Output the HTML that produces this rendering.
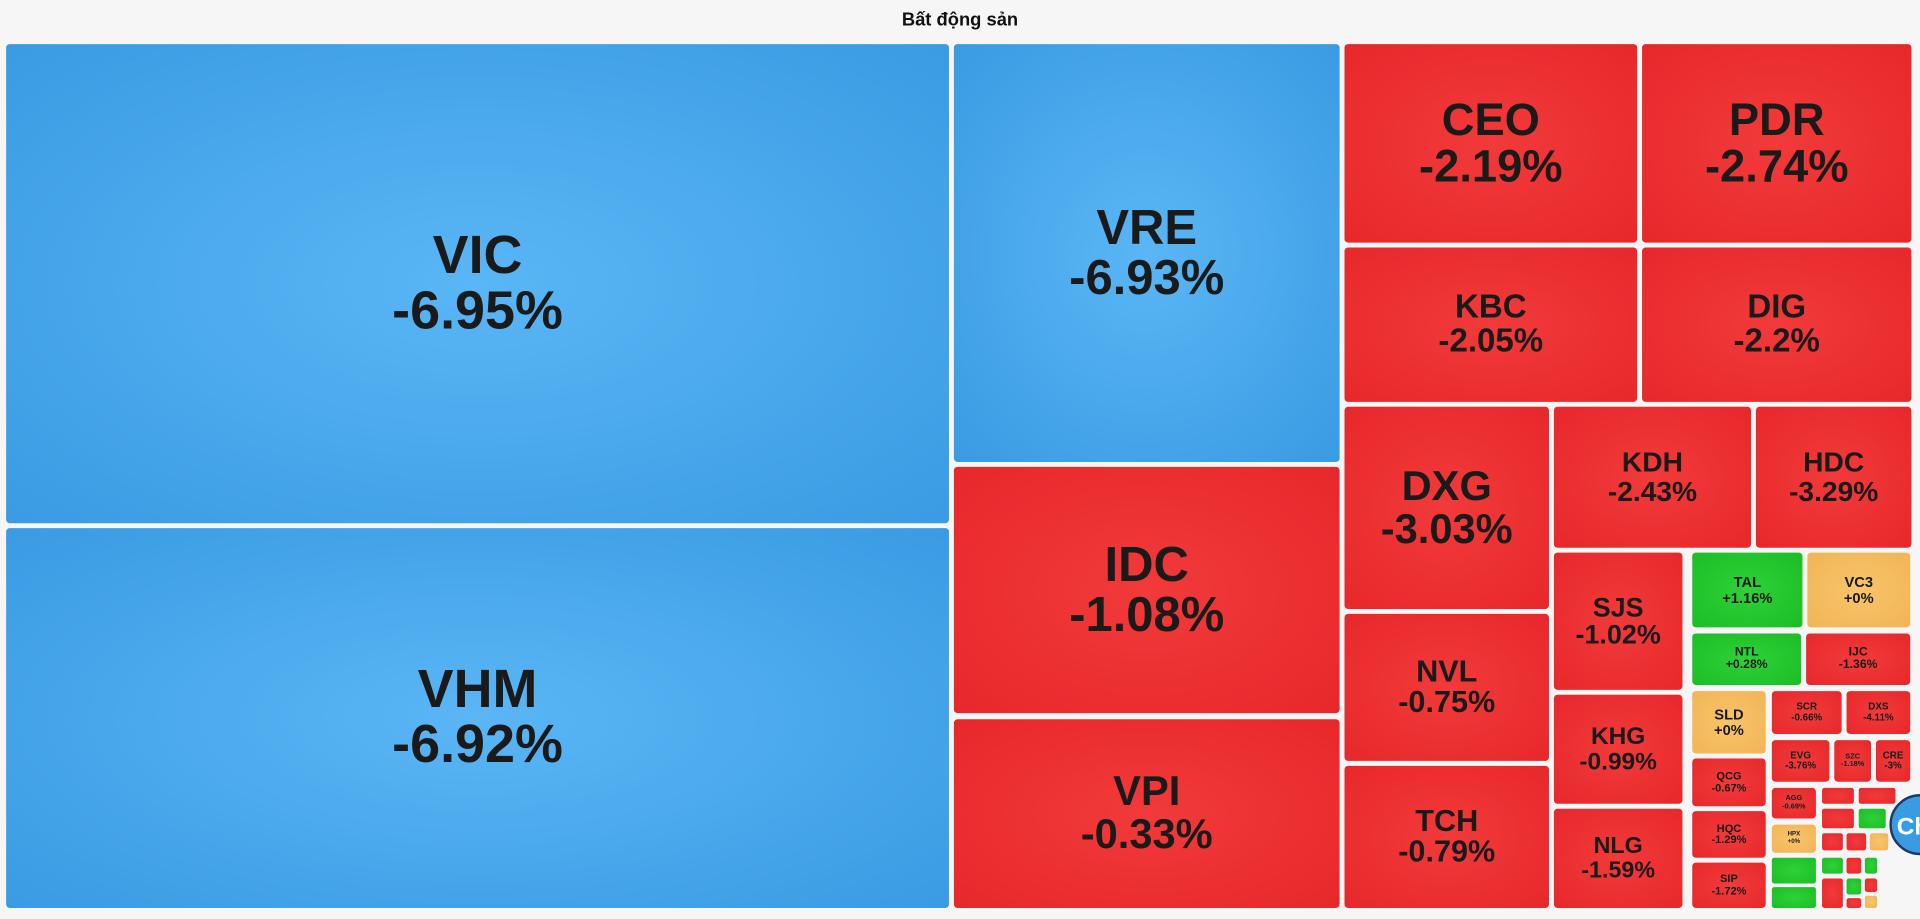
<!DOCTYPE html>
<html><head><meta charset="utf-8">
<style>
html,body{margin:0;padding:0;background:#fff;width:1920px;height:919px;overflow:hidden}
#wrap{position:absolute;left:0;top:0;width:1568px;height:750px;transform:scale(1.22449,1.2253);transform-origin:0 0;background:#f6f6f6}
#title{position:absolute;left:0;top:8px;width:1568px;text-align:center;font:bold 15px "Liberation Sans","Noto Sans CJK SC",sans-serif;color:#111}
.t{position:absolute;border-radius:3px;display:flex;flex-direction:column;align-items:center;justify-content:center;font-family:"Liberation Sans",sans-serif;font-weight:bold;color:#1a1a1a;line-height:1.02;text-align:center;overflow:hidden;box-sizing:border-box}
.neg{background:radial-gradient(ellipse at center,#f23a3a 0%,#e7282b 100%)}
.pos{background:radial-gradient(ellipse at center,#2ed237 0%,#1cbc26 100%)}
.zero{background:radial-gradient(ellipse at center,#f8c46a 0%,#f2b456 100%)}
.big{background:radial-gradient(ellipse at center,#5ab6f5 0%,#3a9be3 100%)}
#bot{position:absolute;left:1543px;top:648px;width:50px;height:50px;border-radius:50%;background:#3a9be3;border:2px solid #1d3a66;color:#fff;font:bold 20px "Liberation Sans",sans-serif;line-height:50px;padding-left:4px;box-sizing:border-box}
</style></head><body>
<div id="wrap">
<div id="title">Bất động sản</div>
<div id="tiles"></div>
<div id="bot">Ch</div>
</div>
<script>
const tickers=["VIC","VHM","VRE","IDC","VPI","CEO","PDR","KBC","DIG","DXG","KDH","HDC","NVL","TCH","SJS","KHG","NLG","TAL","VC3","NTL","IJC","SLD","SCR","DXS","EVG","SZC","CRE","QCG","AGG","HPX","HQC","SIP"];
const changes=[-6.95,-6.92,-6.93,-1.08,-0.33,-2.19,-2.74,-2.05,-2.2,-3.03,-2.43,-3.29,-0.75,-0.79,-1.02,-0.99,-1.59,1.16,0,0.28,-1.36,0,-0.66,-4.11,-3.76,-1.18,-3,-0.67,-0.69,0,-1.29,-1.72];
// layout rectangles [x0,y0,x1,y1,fontSize] (treemap layout, not data)
const layout=[[5,36,775,427,44],[5,431,775,741,44],[779,36,1094,377,40],[779,381,1094,582,40],[779,587,1094,741,34],
[1098,36,1337,198,37],[1341,36,1561,198,37],[1098,202,1337,328,27],[1341,202,1561,328,27],
[1098,332,1265,497,34],[1269,332,1430,447,23],[1434,332,1561,447,23],[1098,501,1265,621,25],[1098,625,1265,741,25],
[1269,451,1374,563,22],[1269,567,1374,656,20],[1269,660,1374,741,19],
[1382,451,1472,512,12],[1476,451,1560,512,12],[1382,517,1471,559,10],[1475,517,1560,559,10],
[1382,564,1442,615,12],[1447,564,1504,599,8],[1508,564,1560,599,8],[1447,604,1494,638,8],[1498,604,1528,638,6],[1532,604,1560,638,8],
[1382,619,1442,658,9],[1447,643,1483,668,6],[1447,673,1483,696,5],[1382,662,1442,700,9],[1382,704,1442,741,9]];
const fillers=[["pos",1447,700,1483,721],["pos",1447,724,1483,741],["neg",1488,643,1514,656],["neg",1518,643,1548,656],["neg",1488,660,1514,676],["pos",1518,660,1540,676],["neg",1488,680,1505,694],["neg",1508,680,1524,694],["zero",1527,680,1542,694],["pos",1488,700,1505,713],["neg",1508,700,1520,713],["pos",1523,700,1533,713],["neg",1488,717,1505,741],["pos",1508,717,1520,730],["neg",1523,717,1533,728],["neg",1508,733,1520,741],["zero",1523,731,1533,741]];
const host=document.getElementById('tiles');
function cls(v){ return v>0?'pos':(v<0?'neg':'zero'); }
tickers.forEach((n,i)=>{
  const r=layout[i];const v=changes[i];
  const d=document.createElement('div');
  d.className='t '+(i<5&&v<-6?'big':cls(v));
  
  
  d.style.left=r[0]+'px';d.style.top=r[1]+'px';d.style.width=(r[2]-r[0])+'px';d.style.height=(r[3]-r[1])+'px';
  d.style.fontSize=r[4]+'px';
  const txt=(v<0?v+'%':'+'+v+'%');
  d.innerHTML='<div>'+n+'</div><div>'+txt+'</div>';
  host.appendChild(d);
});
fillers.forEach((f,i)=>{
  const d=document.createElement('div');
  d.className='t '+f[0];
  
  
  d.style.left=f[1]+'px';d.style.top=f[2]+'px';d.style.width=(f[3]-f[1])+'px';d.style.height=(f[4]-f[2])+'px';
  d.style.borderRadius='2px';
  host.appendChild(d);
});
</script>
</body></html>
